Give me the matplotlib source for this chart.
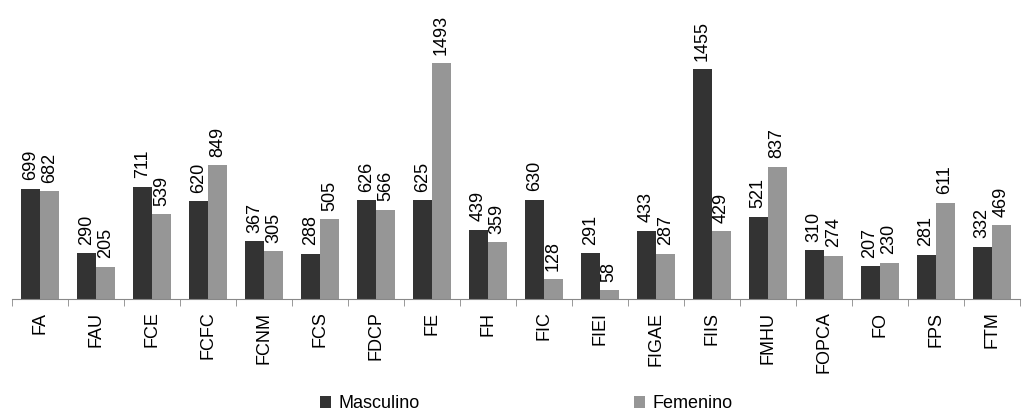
import numpy as np
import matplotlib.pyplot as plt

categories = ['FA', 'FAU', 'FCE', 'FCFC', 'FCNM', 'FCS', 'FDCP', 'FE', 'FH', 'FIC',
              'FIEI', 'FIGAE', 'FIIS', 'FMHU', 'FOPCA', 'FO', 'FPS', 'FTM']
masculino = [699, 290, 711, 620, 367, 288, 626, 625, 439, 630,
             291, 433, 1455, 521, 310, 207, 281, 332]
femenino = [682, 205, 539, 849, 305, 505, 566, 1493, 359, 128,
            58, 287, 429, 837, 274, 230, 611, 469]

plt.rcParams['font.family'] = ['Liberation Sans', 'DejaVu Sans']

fig = plt.figure(figsize=(10.26, 4.16), dpi=100)
ax = fig.add_axes([0.0117, 0.281, 0.982, 0.608])

x = np.arange(len(categories))
width = 0.34
b1 = ax.bar(x - width / 2, masculino, width, color='#333333', label='Masculino')
b2 = ax.bar(x + width / 2, femenino, width, color='#969696', label='Femenino')

# value labels above each bar
for bars, vals in [(b1, masculino), (b2, femenino)]:
    for r, v in zip(bars, vals):
        ax.annotate(str(v), (r.get_x() + r.get_width() / 2, v), xytext=(0, 6),
                    textcoords='offset points', rotation=90,
                    ha='center', va='bottom', fontsize=13, annotation_clip=False)

ax.set_xlim(-0.5, len(categories) - 0.5)
ax.set_ylim(0, 1600)
ax.set_yticks([])
for s in ['top', 'right', 'left']:
    ax.spines[s].set_visible(False)
ax.spines['bottom'].set_color('#888888')

ax.set_xticks(x)
ax.set_xticklabels(categories, rotation=90, fontsize=13)
ax.tick_params(axis='x', length=0, pad=9)
ax.set_xticks(np.arange(len(categories) + 1) - 0.5, minor=True)
ax.tick_params(axis='x', which='minor', length=5, color='#888888')

fig.legend(handles=[b1, b2], loc='lower center', ncol=2, frameon=False,
           bbox_to_anchor=(0.513, -0.03), fontsize=13, columnspacing=11.9,
           handlelength=0.6, handleheight=0.6, handletextpad=0.4)

fig.savefig('out.png')
